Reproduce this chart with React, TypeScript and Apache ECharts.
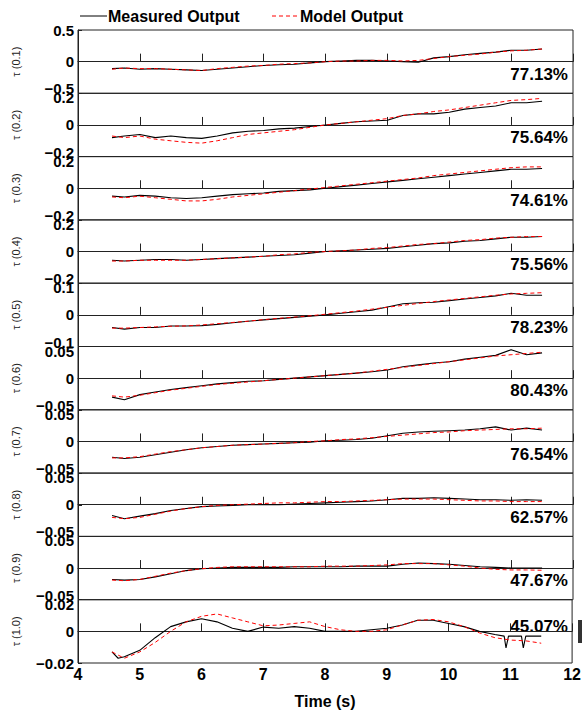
import React, { useEffect, useRef } from "react";
import * as echarts from "echarts";

const times = [4.55, 4.75, 5.0, 5.25, 5.5, 5.75, 6.0, 6.25, 6.5, 6.75, 7.0, 7.25, 7.5, 7.75, 8.0, 8.25, 8.5, 8.75, 9.0, 9.25, 9.5, 9.75, 10.0, 10.25, 10.5, 10.75, 11.0, 11.25, 11.5];

const panelLabels = ["τ (0.1)", "τ (0.2)", "τ (0.3)", "τ (0.4)", "τ (0.5)", "τ (0.6)", "τ (0.7)", "τ (0.8)", "τ (0.9)", "τ (1.0)"];
const yLimits = [0.5, 0.2, 0.2, 0.2, 0.1, 0.05, 0.05, 0.05, 0.05, 0.02];
const fitPercents = ["77.13%", "75.64%", "74.61%", "75.56%", "78.23%", "80.43%", "76.54%", "62.57%", "47.67%", "45.07%"];
const legendNames = ["Measured Output", "Model Output"];
const xTickStart = 4;
const xTickEnd = 12;

const measured1 = [-0.11, -0.1, -0.12, -0.11, -0.12, -0.13, -0.14, -0.12, -0.1, -0.08, -0.06, -0.05, -0.04, -0.02, 0.0, 0.01, 0.02, 0.02, 0.01, 0.0, -0.01, 0.06, 0.08, 0.11, 0.13, 0.15, 0.18, 0.18, 0.2];
const model1 = [-0.12, -0.1, -0.11, -0.11, -0.12, -0.13, -0.14, -0.11, -0.09, -0.07, -0.06, -0.04, -0.03, -0.02, 0.0, 0.01, 0.01, 0.02, 0.02, 0.01, 0.02, 0.05, 0.08, 0.1, 0.12, 0.15, 0.17, 0.18, 0.2];

const measured2 = [-0.08, -0.07, -0.06, -0.08, -0.07, -0.08, -0.085, -0.07, -0.05, -0.04, -0.035, -0.025, -0.02, -0.01, 0.0, 0.01, 0.02, 0.025, 0.03, 0.06, 0.07, 0.07, 0.08, 0.1, 0.11, 0.12, 0.14, 0.14, 0.15];
const model2 = [-0.07, -0.08, -0.07, -0.09, -0.1, -0.11, -0.115, -0.1, -0.08, -0.06, -0.05, -0.04, -0.03, -0.015, 0.0, 0.01, 0.02, 0.03, 0.04, 0.06, 0.07, 0.085, 0.095, 0.11, 0.125, 0.14, 0.155, 0.16, 0.168];

const measured3 = [-0.05, -0.055, -0.045, -0.05, -0.06, -0.065, -0.06, -0.05, -0.04, -0.035, -0.03, -0.02, -0.015, -0.01, 0.0, 0.01, 0.02, 0.03, 0.04, 0.05, 0.06, 0.07, 0.08, 0.09, 0.1, 0.11, 0.12, 0.12, 0.125];
const model3 = [-0.055, -0.06, -0.05, -0.06, -0.07, -0.08, -0.08, -0.07, -0.055, -0.045, -0.035, -0.025, -0.015, -0.005, 0.005, 0.015, 0.025, 0.035, 0.045, 0.055, 0.065, 0.08, 0.09, 0.1, 0.11, 0.12, 0.13, 0.135, 0.135];

const measured4 = [-0.055, -0.06, -0.055, -0.05, -0.05, -0.055, -0.05, -0.045, -0.04, -0.035, -0.03, -0.025, -0.02, -0.01, 0.0, 0.005, 0.01, 0.015, 0.02, 0.03, 0.04, 0.05, 0.055, 0.065, 0.07, 0.08, 0.09, 0.09, 0.095];
const model4 = [-0.06, -0.06, -0.055, -0.055, -0.055, -0.055, -0.05, -0.045, -0.04, -0.035, -0.03, -0.02, -0.015, -0.005, 0.0, 0.005, 0.01, 0.02, 0.025, 0.035, 0.045, 0.05, 0.06, 0.07, 0.075, 0.085, 0.09, 0.095, 0.095];

const measured5 = [-0.04, -0.045, -0.04, -0.04, -0.035, -0.035, -0.034, -0.03, -0.025, -0.02, -0.016, -0.012, -0.008, -0.004, 0.0, 0.005, 0.01, 0.015, 0.025, 0.035, 0.038, 0.04, 0.045, 0.05, 0.055, 0.06, 0.068, 0.062, 0.062];
const model5 = [-0.042, -0.042, -0.04, -0.038, -0.036, -0.035, -0.032, -0.028, -0.024, -0.02, -0.015, -0.011, -0.007, -0.003, 0.002, 0.007, 0.012, 0.018, 0.024, 0.03, 0.036, 0.042, 0.047, 0.052, 0.057, 0.062, 0.066, 0.068, 0.07];

const measured6 = [-0.03, -0.034, -0.026, -0.022, -0.018, -0.015, -0.012, -0.009, -0.007, -0.005, -0.004, -0.002, 0.0, 0.002, 0.004, 0.006, 0.008, 0.01, 0.013, 0.018, 0.021, 0.024, 0.026, 0.03, 0.033, 0.036, 0.045, 0.037, 0.04];
const model6 = [-0.028, -0.03, -0.027, -0.023, -0.019, -0.016, -0.013, -0.01, -0.008, -0.006, -0.004, -0.002, 0.0, 0.002, 0.004, 0.006, 0.008, 0.011, 0.014, 0.017, 0.02, 0.023, 0.026, 0.029, 0.032, 0.035, 0.037, 0.039, 0.041];

const measured7 = [-0.025, -0.027, -0.025, -0.021, -0.017, -0.013, -0.01, -0.008, -0.006, -0.005, -0.004, -0.003, -0.002, -0.001, 0.001, 0.002, 0.003, 0.005, 0.009, 0.013, 0.015, 0.016, 0.017, 0.018, 0.02, 0.023, 0.018, 0.021, 0.018];
const model7 = [-0.026, -0.026, -0.024, -0.02, -0.016, -0.013, -0.01, -0.008, -0.006, -0.005, -0.004, -0.003, -0.002, 0.0, 0.001, 0.003, 0.004, 0.006, 0.008, 0.01, 0.012, 0.014, 0.015, 0.017, 0.018, 0.019, 0.02, 0.02, 0.021];

const measured8 = [-0.017, -0.022, -0.018, -0.014, -0.009, -0.006, -0.003, -0.002, -0.001, 0.0, 0.0, 0.0, 0.001, 0.002, 0.003, 0.004, 0.005, 0.006, 0.008, 0.01, 0.01, 0.011, 0.01, 0.009, 0.008, 0.008, 0.007, 0.008, 0.007];
const model8 = [-0.02, -0.022, -0.02, -0.015, -0.01, -0.006, -0.003, -0.001, 0.0, 0.001, 0.002, 0.003, 0.003, 0.004, 0.005, 0.005, 0.006, 0.007, 0.008, 0.009, 0.009, 0.009, 0.008, 0.007, 0.006, 0.006, 0.005, 0.005, 0.005];

const measured9 = [-0.018, -0.019, -0.018, -0.014, -0.009, -0.004, -0.001, 0.0, 0.001, 0.001, 0.001, 0.001, 0.002, 0.002, 0.002, 0.002, 0.003, 0.003, 0.003, 0.006, 0.008, 0.007, 0.006, 0.004, 0.002, 0.001, 0.0, 0.0, 0.0];
const model9 = [-0.019, -0.02, -0.018, -0.013, -0.008, -0.004, -0.001, 0.001, 0.002, 0.002, 0.002, 0.002, 0.002, 0.002, 0.003, 0.003, 0.003, 0.004, 0.005, 0.007, 0.007, 0.007, 0.005, 0.003, 0.0, -0.002, -0.003, -0.003, -0.0035];

const times10 = [4.55, 4.65, 4.75, 5.0, 5.25, 5.5, 5.75, 6.0, 6.25, 6.5, 6.75, 7.0, 7.25, 7.5, 7.75, 8.0, 8.25, 8.5, 8.75, 9.0, 9.25, 9.5, 9.75, 10.0, 10.25, 10.5, 10.75, 10.9, 10.93, 10.97, 11.18, 11.21, 11.25, 11.5];
const measured10 = [-0.013, -0.017, -0.016, -0.012, -0.004, 0.003, 0.006, 0.008, 0.006, 0.002, 0.0, 0.0027, 0.002, 0.003, 0.002, 0.0, 0.0, 0.0, 0.001, 0.002, 0.004, 0.007, 0.007, 0.005, 0.003, 0.0, -0.002, -0.003, -0.0105, -0.003, -0.003, -0.0105, -0.003, -0.003];
const model10 = [-0.013, -0.017, -0.013, -0.007, 0.0, 0.006, 0.0095, 0.011, 0.0085, 0.006, 0.0035, 0.004, 0.005, 0.006, 0.003, 0.001, 0.0, 0.0, 0.001, 0.004, 0.007, 0.0075, 0.006, 0.003, -0.001, -0.004, -0.0055, -0.006, -0.0075];

const measuredAll = [measured1, measured2, measured3, measured4, measured5, measured6, measured7, measured8, measured9, measured10];
const modelAll = [model1, model2, model3, model4, model5, model6, model7, model8, model9, model10];

const FONT = "Liberation Sans, Arial, Helvetica, sans-serif";

function fmtNum(v: number) {
  const r = Number(v.toFixed(4));
  if (r === 0) return "0";
  return r < 0 ? "\u2212" + String(-r) : String(r);
}

const labelFont = { color: "#000", fontSize: 15, fontWeight: "bold" as const, fontFamily: FONT };

export default function App() {
  const ref = useRef<HTMLDivElement>(null);
  useEffect(() => {
    if (!ref.current) return;
    const chart = echarts.init(ref.current, null, { renderer: "svg" });
    const n = 10;
    const top0 = 30;
    const H = 63.3;
    const left = 78;
    const right = 11;
    const grids: any[] = [];
    const xAxes: any[] = [];
    const yAxes: any[] = [];
    const series: any[] = [];
    const graphics: any[] = [];
    for (let i = 0; i < n; i++) {
      const top = top0 + i * H;
      grids.push({ left, right, top, height: H, show: true, borderColor: "#222", borderWidth: 1, backgroundColor: "transparent" });
      const last = i === n - 1;
      const first = i === 0;
      xAxes.push({
        gridIndex: i, type: "value", min: xTickStart, max: xTickEnd, interval: 1,
        axisLine: { show: true, lineStyle: { color: "#222", width: 1 } },
        axisTick: { show: true, inside: true, length: 8, lineStyle: { color: "#222", width: 1 } },
        axisLabel: { show: last, color: "#000", fontSize: 16, fontWeight: "bold", fontFamily: FONT, margin: 3 },
        splitLine: { show: false },
        name: last ? "Time (s)" : "",
        nameLocation: "middle", nameGap: 30,
        nameTextStyle: { color: "#000", fontSize: 16, fontWeight: "bold", fontFamily: FONT },
      });
      const m = yLimits[i];
      yAxes.push({
        gridIndex: i, type: "value", min: -m, max: m, interval: m,
        axisLine: { show: true, lineStyle: { color: "#222", width: 1 } },
        axisTick: { show: true, inside: true, length: 4, lineStyle: { color: "#222" } },
        axisLabel: {
          ...labelFont, margin: 4,
          formatter: (v: number) => {
            const s = fmtNum(v);
            if (v < 0 && !last) return "{lo|" + s + "}";
            if (v > 0 && !first) return "{hi|" + s + "}";
            return s;
          },
          rich: {
            lo: { ...labelFont, padding: [0, 0, 9, 0] },
            hi: { ...labelFont, padding: [9, 0, 0, 0] },
          },
        },
        splitLine: { show: false },
        name: panelLabels[i], nameLocation: "middle", nameRotate: 90, nameGap: 57,
        nameTextStyle: { color: "#222", fontSize: 11, fontFamily: FONT },
      });
      const mt = last ? times10 : times;
      series.push({
        name: legendNames[0], type: "line", xAxisIndex: i, yAxisIndex: i,
        data: measuredAll[i].map((v, k) => [mt[k], v]),
        symbol: "none", lineStyle: { color: "#000", width: 1.1 }, itemStyle: { color: "#000" },
      });
      series.push({
        name: legendNames[1], type: "line", xAxisIndex: i, yAxisIndex: i,
        data: modelAll[i].map((v, k) => [times[k], v]),
        symbol: "none", lineStyle: { color: "#ff0000", width: 1, type: [4, 3] }, itemStyle: { color: "#ff0000" },
      });
      const frac = last ? 0.43 : 0.7;
      graphics.push({
        type: "text", x: 568, y: top + frac * H,
        style: { text: fitPercents[i], fill: "#000", fontSize: 17, fontWeight: "bold", fontFamily: FONT, align: "right", verticalAlign: "middle" },
      });
    }
    // legend drawn manually (line samples without symbols)
    graphics.push({ type: "line", shape: { x1: 80, y1: 16, x2: 107, y2: 16 }, style: { stroke: "#000", lineWidth: 1 } });
    graphics.push({
      type: "text", x: 108, y: 16,
      style: { text: legendNames[0], fill: "#000", fontSize: 16, fontWeight: "bold", fontFamily: FONT, align: "left", verticalAlign: "middle" },
    });
    graphics.push({ type: "line", shape: { x1: 272, y1: 16, x2: 299, y2: 16 }, style: { stroke: "#ff0000", lineWidth: 1, lineDash: [4, 3] } });
    graphics.push({
      type: "text", x: 300, y: 16,
      style: { text: legendNames[1], fill: "#000", fontSize: 16, fontWeight: "bold", fontFamily: FONT, align: "left", verticalAlign: "middle" },
    });
    graphics.push({ type: "rect", shape: { x: 578, y: 620, width: 4, height: 23 }, style: { fill: "#333" } });
    chart.setOption({
      animation: false,
      backgroundColor: "#fff",
      grid: grids,
      xAxis: xAxes,
      yAxis: yAxes,
      series,
      graphic: graphics,
    });
    return () => chart.dispose();
  }, []);
  return <div ref={ref} style={{ position: "fixed", left: 0, top: 0, width: 584, height: 710 }} />;
}
